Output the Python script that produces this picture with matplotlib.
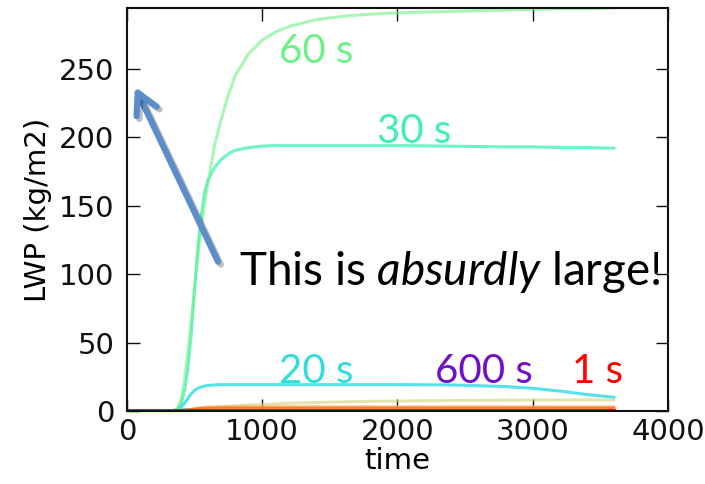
import matplotlib
matplotlib.use("Agg")
import matplotlib.pyplot as plt
import matplotlib.patheffects as pe

plt.rcParams['font.family'] = ['DejaVu Sans']
plt.rcParams['mathtext.fontset'] = 'custom'
plt.rcParams['mathtext.rm'] = 'Lato'
plt.rcParams['mathtext.it'] = 'Lato:italic'

# time axis (s)
time = [0, 300, 350, 375, 400, 425, 450, 475, 500, 525, 550, 575, 600,
        650, 700, 750, 800, 900, 1000, 1100, 1200, 1400, 1600, 1800,
        2000, 2400, 2800, 3000, 3200, 3400, 3600]

lwp_60s = [0, 0, 0.5, 2, 8, 22, 42, 65, 90, 114, 134, 152, 167,
           195, 214, 231, 245, 261, 271, 277, 281, 286, 288.5, 290,
           291, 292, 293, 293.5, 294, 294, 294.5]
lwp_30s = [0, 0, 0.3, 1.5, 5, 14, 30, 55, 88, 120, 143, 160, 169,
           178, 184, 188, 190.5, 192.5, 193.5, 194, 194, 194, 194, 194,
           194, 193.5, 193, 193, 192.5, 192.5, 192]
lwp_20s = [0, 0, 0.2, 0.8, 2.5, 5.5, 9, 12.5, 15, 16.5, 17.5, 18.2, 18.6,
           19, 19.2, 19.2, 19.2, 19.2, 19.2, 19.2, 19.2, 19.2, 19.2, 19.2,
           19.2, 19, 17.8, 16.5, 14.5, 12, 10]
lwp_khaki = [0, 0, 0, 0, 0, 0.2, 0.5, 0.8, 1.1, 1.4, 1.7, 2, 2.2,
             2.6, 3, 3.4, 3.7, 4.3, 4.8, 5.2, 5.6, 6.2, 6.6, 7,
             7.2, 7.6, 7.8, 7.9, 8, 8, 8]
lwp_blue = [0, 0, 0.1, 0.3, 0.6, 0.9, 1.1, 1.0, 0.8, 0.6, 0.4, 0.3, 0.2,
            0.1, 0, 0, 0, 0, 0, 0, 0, 0, 0, 0,
            0, 0, 0, 0, 0, 0, 0]
lwp_600s = [0] * 31
lwp_yorange = [0, 0, 0, 0, 0, 0.3, 0.7, 1.2, 1.7, 2.1, 2.4, 2.6, 2.8,
               2.9, 3.0, 3.0, 3.0, 3.0, 3.0, 3.0, 3.0, 3.0, 3.0, 3.0,
               3.0, 3.0, 3.0, 3.0, 3.0, 3.0, 3.0]
lwp_orange = [0, 0, 0, 0, 0, 0.2, 0.5, 0.9, 1.2, 1.5, 1.7, 1.8, 1.9,
              2.0, 2.0, 2.0, 2.0, 2.0, 2.0, 2.0, 2.0, 2.0, 2.0, 2.0,
              2.0, 2.0, 2.0, 2.0, 2.0, 2.0, 2.0]
lwp_1s = [1.0] * 31
lwp_dark = [0.3] * 31

series = [
    (lwp_600s, '#7010c8', 0.6, 2.0),
    (lwp_blue, '#3050e0', 0.6, 2.0),
    (lwp_khaki, '#c8d070', 0.55, 2.2),
    (lwp_20s, '#20d8e0', 0.75, 2.2),
    (lwp_30s, '#30f0b0', 0.7, 2.2),
    (lwp_60s, '#70f088', 0.6, 2.2),
    (lwp_yorange, '#ffb060', 0.8, 2.2),
    (lwp_orange, '#ff7020', 0.85, 2.2),
    (lwp_1s, '#f01800', 0.95, 2.2),
    (lwp_dark, '#c00000', 0.95, 2.0),
]

labels = ['60 s', '30 s', '20 s', '600 s', '1 s']
label_x = [1126, 1852, 1126, 2274, 3289]
label_y = [254, 196, 20.5, 20.5, 20.5]
label_colors = ['#70f088', '#40f0b0', '#30dcdc', '#7010c8', '#ff0000']

fig = plt.figure(figsize=(7.05, 4.84), dpi=100)
ax = fig.add_axes([0.180, 0.151, 0.7675, 0.8325])

for vals, col, a, w in series:
    ax.plot(time, vals, color=col, alpha=a, lw=w)

ax.set_xlim(0, 4000)
ax.set_ylim(0, 294.5)
ax.set_xticks([0, 1000, 2000, 3000, 4000])
ax.set_yticks([0, 50, 100, 150, 200, 250])
ax.tick_params(direction='in', top=True, right=True, length=9, width=1,
               labelsize=21, colors='#111111')
ax.tick_params(axis='x', pad=5)
ax.tick_params(axis='y', pad=9)
for s in ax.spines.values():
    s.set_linewidth(1.5)
    s.set_color('#111111')

ax.set_xlabel('time', fontsize=21, labelpad=1)
ax.set_ylabel('LWP (kg/m2)', fontsize=21, labelpad=5)

for t, x, y, c in zip(labels, label_x, label_y, label_colors):
    ax.text(x, y, t, color=c, fontsize=29, family='Lato', ha='left',
            va='baseline')

ax.text(830, 92, r'This is $\mathit{absurdly}$ large!', fontsize=33,
        family='Lato', ha='left', va='baseline', color='black')

ax.annotate('', xy=(59, 237), xytext=(674, 109),
            arrowprops=dict(arrowstyle='->,head_length=0.75,head_width=0.4',
                            mutation_scale=20, shrinkA=0, shrinkB=0,
                            color='#5b8dc8', lw=4.5,
                            path_effects=[pe.SimpleLineShadow(offset=(2, -2), alpha=0.25),
                                          pe.Normal()]),
            annotation_clip=False)

fig.savefig('out.png', dpi=100)
